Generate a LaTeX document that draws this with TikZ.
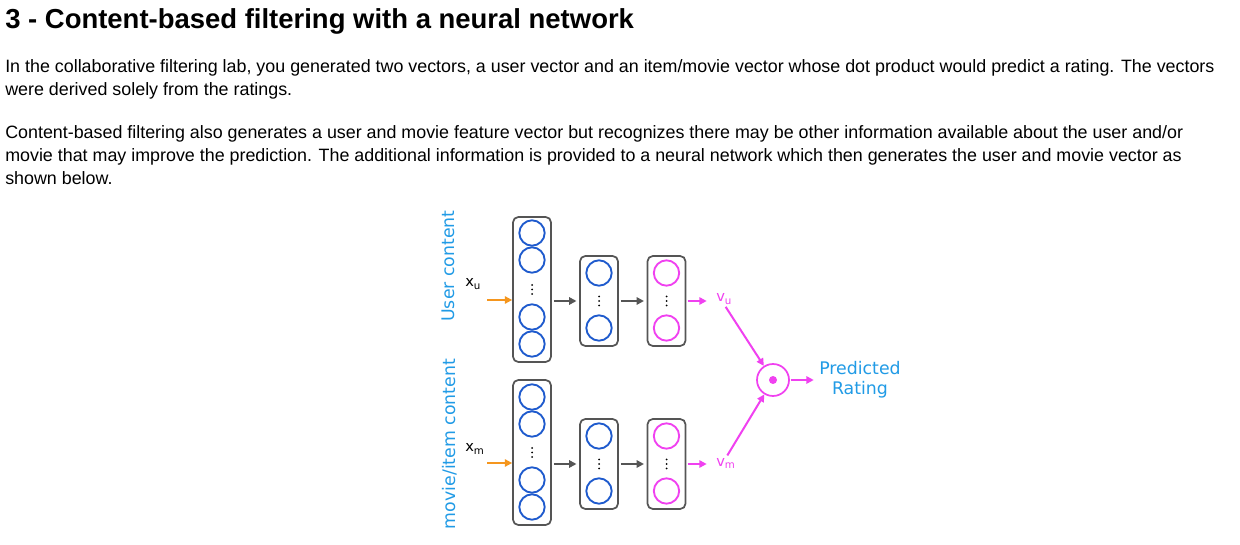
\documentclass[tikz,border=0pt]{standalone}
\usepackage{fontspec}
\setmainfont{Liberation Sans}
\newfontfamily\diagfont{DejaVu Sans}
\usepackage{tikz}
\usetikzlibrary{arrows.meta, positioning, calc}
\usepackage{xcolor}
\definecolor{labelblue}{RGB}{33,155,230}
\definecolor{unitblue}{RGB}{30,90,205}
\definecolor{vecpink}{RGB}{240,65,240}
\definecolor{inorange}{RGB}{245,150,30}
\definecolor{linkgray}{RGB}{85,85,85}

\begin{document}
\begin{tikzpicture}[
    x=0.75pt, y=-0.75pt,
    >={Triangle[length=5.5pt, width=5.5pt]},
    heading/.style={anchor=base west, inner sep=0pt, font=\fontsize{20.6}{24}\selectfont\bfseries},
    para/.style={anchor=base west, inner sep=0pt, font=\fontsize{13.4}{16}\selectfont},
    layer/.style={rectangle, draw=linkgray, line width=1.3pt, rounded corners=4pt, minimum width=28.5pt, inner sep=0pt},
    unit/.style={circle, draw=unitblue, line width=1.4pt, minimum size=19pt, inner sep=0pt},
    outunit/.style={unit, draw=vecpink},
    side/.style={rotate=90, text=labelblue, inner sep=0pt, font=\diagfont\fontsize{13}{15}\selectfont},
    sym/.style={anchor=base west, inner sep=0pt, font=\diagfont\fontsize{11}{13}\selectfont},
    inarrow/.style={->, draw=inorange, line width=1.5pt},
    link/.style={->, draw=linkgray, line width=1.5pt},
    vecarrow/.style={->, draw=vecpink, line width=1.5pt}
]
\fill[white] (0,0) rectangle (1240,545);
\useasboundingbox (0,0) rectangle (1240,545);

% page text
\node[heading] (title) at (5,29) {3 - Content-based filtering with a neural network};
\node[para] (p1a) at (5,73) {In the collaborative filtering lab, you generated two vectors, a user vector and an item/movie vector whose dot product would predict a rating. The vectors};
\node[para] (p1b) at (5,96) {were derived solely from the ratings.};
\node[para] (p2a) at (5,139) {Content-based filtering also generates a user and movie feature vector but recognizes there may be other information available about the user and/or};
\node[para] (p2b) at (5,162) {movie that may improve the prediction. The additional information is provided to a neural network which then generates the user and movie vector as};
\node[para] (p2c) at (5,185) {shown below.};

% user tower
\node[side] (ulabel) at (448,266) {User content};
\node[sym] (xu) at (465,287) {x\textsubscript{u}};
\node[layer, minimum height=108.75pt] (ub1) at (532,289.5) {};
\foreach \i/\y in {a/233, b/260, c/317, d/344}
    \node[unit] (u1\i) at (532,\y) {};
\node[layer, minimum height=67.5pt] (ub2) at (599,301) {};
\node[unit] (u2a) at (599,273) {};
\node[unit] (u2b) at (599,328) {};
\node[layer, minimum height=67.5pt] (ub3) at (666.5,301) {};
\node[outunit] (u3a) at (666.5,273) {};
\node[outunit] (u3b) at (666.5,328) {};
\node[sym, text=vecpink] (vu) at (716,302) {v\textsubscript{u}};

% movie tower
\node[side] (mlabel) at (450,444) {movie/item content};
\node[sym] (xm) at (465,452) {x\textsubscript{m}};
\node[layer, minimum height=108.75pt] (mb1) at (532,452.5) {};
\foreach \i/\y in {a/397, b/424, c/480, d/507}
    \node[unit] (m1\i) at (532,\y) {};
\node[layer, minimum height=67.5pt] (mb2) at (599,464) {};
\node[unit] (m2a) at (599,436) {};
\node[unit] (m2b) at (599,491) {};
\node[layer, minimum height=67.5pt] (mb3) at (666.5,464) {};
\node[outunit] (m3a) at (666.5,436) {};
\node[outunit] (m3b) at (666.5,491) {};
\node[sym, text=vecpink] (vm) at (716,466) {v\textsubscript{m}};

% dots between units
\foreach \b in {ub1, ub2, ub3, mb1, mb2, mb3}
    \foreach \d in {-4.5, 0, 4.5}
        \fill[black] ($(\b)+(0,\d)$) circle (1);

% dot product
\node[circle, draw=vecpink, line width=1.3pt, minimum size=24pt, inner sep=0pt] (dot) at (773,380) {};
\fill[vecpink] (dot) circle (4);
\node[align=center, text=labelblue, inner sep=0pt, font=\diagfont\fontsize{13}{15}\selectfont] (pred) at (860,380) {Predicted\\Rating};

\coordinate (uin) at (487,300);
\coordinate (min) at (487,463);
\draw[inarrow] (uin) -- (uin -| ub1.west);
\draw[inarrow] (min) -- (min -| mb1.west);
\draw[link, shorten <=1.5pt, shorten >=2pt] (ub1.east |- ub2) -- (ub2.west);
\draw[link, shorten <=1.5pt, shorten >=2pt] (ub2.east) -- (ub3.west);
\draw[link, shorten <=1.5pt, shorten >=2pt] (mb1.east |- mb2) -- (mb2.west);
\draw[link, shorten <=1.5pt, shorten >=2pt] (mb2.east) -- (mb3.west);
\draw[vecarrow, shorten <=1pt, shorten >=7pt] (ub3.east) -- (ub3.east -| vu.west);
\draw[vecarrow, shorten <=1pt, shorten >=7pt] (mb3.east) -- (mb3.east -| vm.west);
\draw[vecarrow, shorten <=2pt] (vu.south) -- (dot);
\draw[vecarrow, shorten <=2pt] (vm.north) -- (dot);
\draw[vecarrow, shorten <=0.5pt, shorten >=4pt] (dot.east) -- (pred.west);
\end{tikzpicture}
\end{document}
